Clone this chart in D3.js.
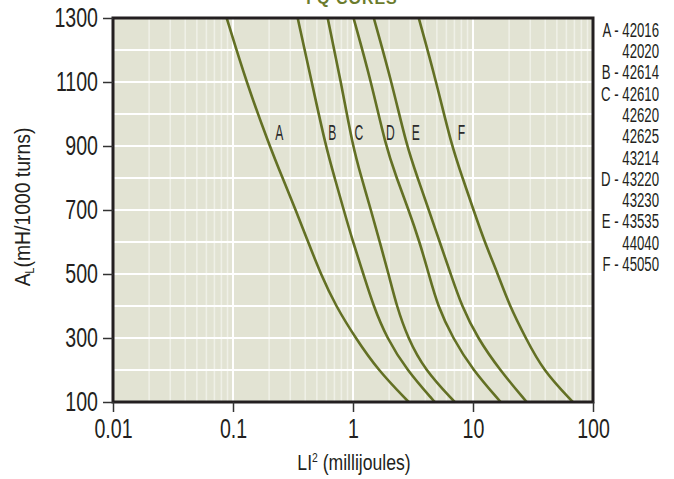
<!DOCTYPE html>
<html><head><meta charset="utf-8">
<script src="https://cdn.jsdelivr.net/npm/d3@7"></script>
<style>
html,body{margin:0;padding:0;background:#fff;}
svg{display:block;}
text{font-family:"Liberation Sans",Arial,sans-serif;}
</style></head>
<body>
<svg id="chart" width="674" height="479"></svg>
<script>
// ---- data ----
const chartTitle = "FQ CORES";
const curveNames = ["A", "B", "C", "D", "E", "F"];
const alLevels = [1300, 1100, 900, 800, 700, 600, 500, 400, 300, 200, 100];
const energyA = [0.0886, 0.129, 0.202, 0.259, 0.333, 0.423, 0.538, 0.718, 1.05, 1.61, 2.91];
const energyB = [0.346, 0.453, 0.592, 0.704, 0.837, 1.00, 1.22, 1.48, 1.91, 2.80, 4.80];
const energyC = [0.615, 0.794, 0.994, 1.18, 1.41, 1.67, 1.98, 2.31, 2.86, 3.96, 7.04];
const energyD = [1.01, 1.42, 1.87, 2.31, 2.91, 3.59, 4.28, 5.08, 6.77, 9.94, 17.0];
const energyE = [1.49, 2.10, 2.80, 3.46, 4.28, 5.28, 6.52, 8.05, 10.9, 16.7, 28.0];
const energyF = [3.53, 4.95, 6.64, 8.20, 10.1, 12.5, 16.1, 20.2, 27.5, 38.1, 67.8];
const labelEnergy = [0.243, 0.673, 1.12, 2.05, 3.33, 8.0];
const labelAL = 920;
const xTicks = [0.01, 0.1, 1, 10, 100];
const xTickLabels = ["0.01", "0.1", "1", "10", "100"];
const yTicks = [100, 300, 500, 700, 900, 1100, 1300];
const legendLines = ["A - 42016", "42020", "B - 42614", "C - 42610", "42620", "42625", "43214",
  "D - 43220", "43230", "E - 43535", "44040", "F - 45050"];
const xTitle = "LI";
const xTitleSup = "2";
const xTitleRest = " (millijoules)";
const yTitleMain = "A";
const yTitleSub = "L";
const yTitleRest = "(mH/1000 turns)";

const series = [energyA, energyB, energyC, energyD, energyE, energyF];

// ---- layout ----
const svg = d3.select("#chart");
const L = 113, R = 593, T = 18, B = 402;
const x = d3.scaleLog().domain([0.01, 100]).range([L, R]);
const y = d3.scaleLinear().domain([100, 1300]).range([B, T]);
const green = "#637024";
const ink = "#231f20";

// plot background
svg.append("rect").attr("x", L).attr("y", T).attr("width", R - L).attr("height", B - T)
  .attr("fill", "#e2e3d3");

// grid: minor verticals
const minor = [];
[0.01, 0.1, 1, 10].forEach(d => { for (let k = 2; k <= 9; k++) minor.push(d * k); });
svg.append("g").selectAll("line").data(minor).join("line")
  .attr("x1", d => x(d)).attr("x2", d => x(d)).attr("y1", T).attr("y2", B)
  .attr("stroke", "#ffffff").attr("stroke-opacity", 0.45).attr("stroke-width", 1.6);
// major verticals
svg.append("g").selectAll("line").data([0.1, 1, 10]).join("line")
  .attr("x1", d => x(d)).attr("x2", d => x(d)).attr("y1", T).attr("y2", B)
  .attr("stroke", "#ffffff").attr("stroke-width", 2);
// horizontals
svg.append("g").selectAll("line").data(d3.range(200, 1300, 100)).join("line")
  .attr("x1", L).attr("x2", R).attr("y1", d => y(d)).attr("y2", d => y(d))
  .attr("stroke", "#ffffff").attr("stroke-width", 2);

// curves
svg.append("clipPath").attr("id", "clip").append("rect")
  .attr("x", L).attr("y", T).attr("width", R - L).attr("height", B - T);
const line = d3.line().x(d => x(d[0])).y(d => y(d[1])).curve(d3.curveBasis);
svg.append("g").attr("clip-path", "url(#clip)").selectAll("path").data(series).join("path")
  .attr("d", s => line(s.map((v, i) => [v, alLevels[i]])))
  .attr("fill", "none").attr("stroke", green).attr("stroke-width", 2.6);

// curve labels
svg.append("g").selectAll("text").data(curveNames).join("text")
  .attr("transform", (d, i) => `translate(${x(labelEnergy[i])},${y(labelAL)}) scale(0.55,1)`)
  .attr("text-anchor", "middle").attr("font-size", 22).attr("fill", "#2b2b2b")
  .text(d => d);

// frame
svg.append("rect").attr("x", L).attr("y", T).attr("width", R - L).attr("height", B - T)
  .attr("fill", "none").attr("stroke", ink).attr("stroke-width", 3);

// axes
const tickScale = 0.7;
const xAxis = d3.axisBottom(x).tickValues(xTicks).tickFormat((d, i) => xTickLabels[i])
  .tickSize(10).tickPadding(6);
const gx = svg.append("g").attr("transform", `translate(0,${B})`).call(xAxis);
gx.select(".domain").remove();
gx.selectAll("line").attr("stroke", "#333").attr("stroke-width", 1.5);
gx.selectAll("text").attr("font-size", 28).attr("fill", ink)
  .attr("transform", `scale(${tickScale},1)`)
  .style("font-family", '"Liberation Sans", Arial, sans-serif');

const yAxis = d3.axisLeft(y).tickValues(yTicks).tickFormat(d3.format("d"))
  .tickSize(10).tickPadding(5);
const gy = svg.append("g").attr("transform", `translate(${L},0)`).call(yAxis);
gy.select(".domain").remove();
gy.selectAll("line").attr("stroke", "#333").attr("stroke-width", 1.5);
gy.selectAll("text").attr("font-size", 28).attr("fill", ink)
  .attr("x", -15 / tickScale).attr("transform", `scale(${tickScale},1)`)
  .style("font-family", '"Liberation Sans", Arial, sans-serif');

// axis titles
const xt = svg.append("text").attr("transform", `translate(354,470) scale(0.8,1)`)
  .attr("text-anchor", "middle").attr("font-size", 22).attr("fill", ink);
xt.append("tspan").text(xTitle);
xt.append("tspan").attr("dy", -8).attr("font-size", 13).text(xTitleSup);
xt.append("tspan").attr("dy", 8).text(xTitleRest);

const yt = svg.append("text").attr("transform", "translate(30,207) rotate(-90) scale(0.88,1)")
  .attr("text-anchor", "middle").attr("font-size", 22).attr("fill", ink);
yt.append("tspan").text(yTitleMain);
yt.append("tspan").attr("dy", 4).attr("font-size", 12).text(yTitleSub);
yt.append("tspan").attr("dy", -4).text(yTitleRest);

// title (cut at top, as in the source)
svg.append("text").attr("x", 352).attr("y", 4).attr("text-anchor", "middle")
  .attr("font-size", 16).attr("fill", "#6b7b2c").attr("letter-spacing", 1)
  .attr("font-weight", "bold").text(chartTitle);

// legend of part numbers
svg.append("g").selectAll("text").data(legendLines).join("text")
  .attr("transform", (d, i) => `translate(659,${36.7 + i * 21.3}) scale(0.66,1)`)
  .attr("text-anchor", "end").attr("font-size", 20).attr("fill", ink)
  .text(d => d);
</script>
</body></html>
